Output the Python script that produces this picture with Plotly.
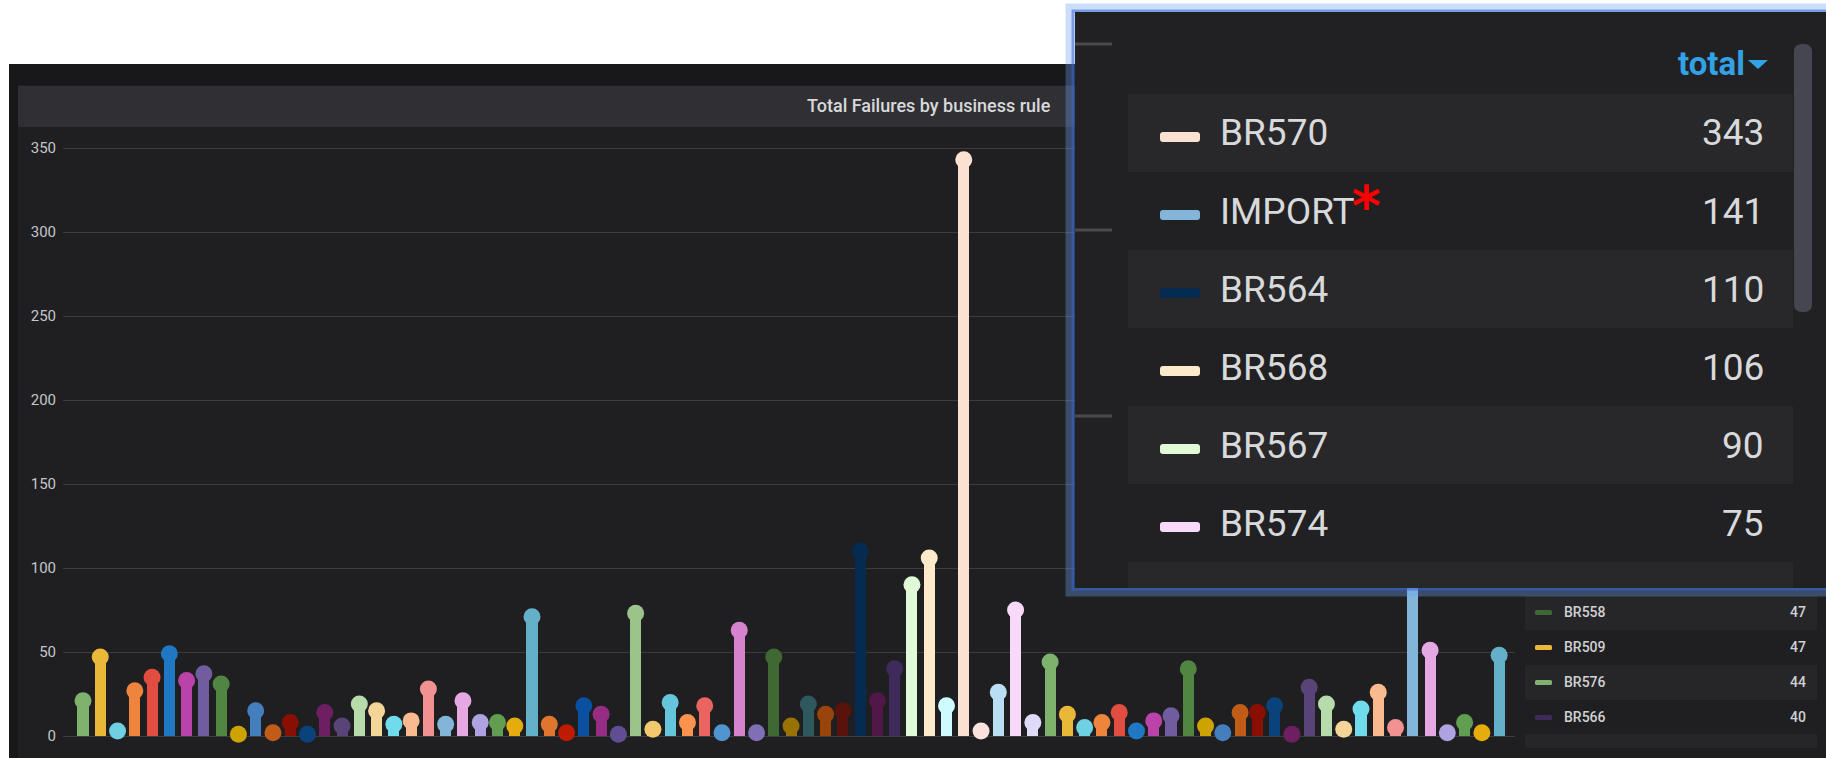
import plotly.graph_objects as go

# ---------------- data ----------------
# Grafana classic palette (series colours are assigned in order)
PALETTE = ["#7EB26D", "#EAB839", "#6ED0E0", "#EF843C", "#E24D42", "#1F78C1", "#BA43A9", "#705DA0",
           "#508642", "#CCA300", "#447EBC", "#C15C17", "#890F02", "#0A437C", "#6D1F62", "#584477",
           "#B7DBAB", "#F4D598", "#70DBED", "#F9BA8F", "#F29191", "#82B5D8", "#E5A8E2", "#AEA2E0",
           "#629E51", "#E5AC0E", "#64B0C8", "#E0752D", "#BF1B00", "#0A50A1", "#962D82", "#614D93",
           "#9AC48A", "#F2C96D", "#65C5DB", "#F9934E", "#EA6460", "#5195CE", "#D683CE", "#806EB7",
           "#3F6833", "#967302", "#2F575E", "#99440A", "#58140C", "#052B51", "#511749", "#3F2B5B",
           "#E0F9D7", "#FCEACA", "#CFFAFF", "#F9E2D2", "#FCE2DE", "#BADFF4", "#F9D9F9", "#DEDAF7"]

failures = [21, 47, 3, 27, 35, 49, 33, 37, 31, 1, 15, 2, 8, 1, 14, 6, 19, 15, 7, 9, 28, 7,
            21, 8, 8, 6, 71, 7, 2, 18, 13, 1, 73, 4, 20, 8, 18, 2, 63, 2, 47, 6, 19, 13, 15,
            110, 21, 40, 90, 106, 18, 343, 3, 26, 75, 8,
            44, 13, 5, 8, 14, 3, 9, 12, 40, 6, 2, 14, 14, 18, 1, 29, 19, 4, 16, 26, 5,
            141, 51, 2, 8, 2, 48]
series_idx = list(range(len(failures)))

y_ticks = [0, 50, 100, 150, 200, 250, 300, 350]
title_text = "Total Failures by business rule"

# zoomed legend (overlay)
top_names = ["BR570", "IMPORT", "BR564", "BR568", "BR567", "BR574"]
top_totals = [343, 141, 110, 106, 90, 75]
top_series = [51, 77, 45, 49, 48, 54]

# panel legend (bottom right)
low_names = ["BR558", "BR509", "BR576", "BR566"]
low_totals = [47, 47, 44, 40]
low_series = [40, 1, 56, 47]

colors = [PALETTE[i % len(PALETTE)] for i in series_idx]

# ---------------- geometry helpers ----------------
W, H = 1826, 758          # reference frame used for all positions below
FIG_H = 767               # rendered figure height (screenshot is squeezed vertically to 758)
def X(p): return p / W
def Y(p): return 1 - p / H

def rect(x0, y0, x1, y1, color, layer="below"):
    return dict(type="rect", xref="paper", yref="paper", x0=X(x0), x1=X(x1), y0=Y(y1), y1=Y(y0),
                fillcolor=color, line=dict(width=0), layer=layer)

def rrect(x0, y0, x1, y1, r, color, layer="above"):
    pts = lambda x, y: f"{X(x):.6f},{Y(y):.6f}"
    p = (f"M {pts(x0 + r, y0)} L {pts(x1 - r, y0)} Q {pts(x1, y0)} {pts(x1, y0 + r)} "
         f"L {pts(x1, y1 - r)} Q {pts(x1, y1)} {pts(x1 - r, y1)} L {pts(x0 + r, y1)} "
         f"Q {pts(x0, y1)} {pts(x0, y1 - r)} L {pts(x0, y0 + r)} Q {pts(x0, y0)} {pts(x0 + r, y0)} Z")
    return dict(type="path", xref="paper", yref="paper", path=p, fillcolor=color,
                line=dict(width=0), layer=layer)

def hline(x0, x1, y, color, w=1, layer="above"):
    return dict(type="line", xref="paper", yref="paper", x0=X(x0), x1=X(x1), y0=Y(y), y1=Y(y),
                line=dict(color=color, width=w), layer=layer)

def text(x, y, s, size, color, xanchor="left", weight=400, family="Roboto"):
    return dict(xref="paper", yref="paper", x=X(x), y=Y(y), text=s, showarrow=False,
                xanchor=xanchor, yanchor="middle",
                font=dict(family=family, size=size, color=color, weight=weight))

# ---------------- figure ----------------
fig = go.Figure()
fig.add_trace(go.Bar(x=series_idx, y=failures, width=0.64, marker=dict(color=colors, line=dict(width=0)),
                     hoverinfo="skip"))
fig.add_trace(go.Scatter(x=series_idx, y=failures, mode="markers", cliponaxis=False,
                         marker=dict(color=colors, size=17, line=dict(width=0)), hoverinfo="skip"))

PX_PER_UNIT = 84 / 50
plot_left, plot_right = 63, 1515
y_bottom, y_top = 736, 136
first_bar_px, bar_step = 83, 17.27

shapes = [
    rect(9, 64, W, H + 20, "#18181b"),
    rect(18, 85, W, H + 20, "#1f1f22"),
    rect(18, 86, W, 127, "#303034"),
]

# ----- panel legend (bottom right) -----
for k, (nm, tot, si) in enumerate(zip(low_names, low_totals, low_series)):
    cy = 612 + 35 * k
    if k % 2 == 0:
        shapes.append(rect(1525, cy - 17, 1817, cy + 18, "#262629", layer="above"))
    shapes.append(rrect(1535, cy - 2, 1552, cy + 3, 1.5, PALETTE[si % len(PALETTE)]))
shapes.append(rect(1525, 734, 1817, 748, "#262629", layer="above"))

# ----- overlay (zoomed legend) -----
shapes += [
    dict(type="rect", xref="paper", yref="paper", x0=X(1070), x1=X(1840), y0=Y(592), y1=Y(8),
         fillcolor="rgba(0,0,0,0)", line=dict(color="rgba(110,160,240,0.35)", width=9), layer="above"),
    dict(type="rect", xref="paper", yref="paper", x0=X(1073), x1=X(1840), y0=Y(589), y1=Y(11),
         fillcolor="rgba(0,0,0,0)", line=dict(color="rgba(50,100,210,0.55)", width=3), layer="above"),
    rect(1075, 12, W, 588, "#212124", layer="above"),
]
for gy in (44, 230, 416):
    shapes.append(hline(1075, 1112, gy, "#4a4a4e", 3))
for k in range(7):
    top = 94 + 78 * k
    if k % 2 == 0:
        shapes.append(rect(1128, top, 1793, min(top + 78, 588), "#28282b", layer="above"))
shapes.append(rrect(1794, 44, 1812, 312, 8, "#45464f"))
shapes.append(dict(type="path", xref="paper", yref="paper",
                   path=f"M {X(1748)},{Y(60)} L {X(1768)},{Y(60)} L {X(1758)},{Y(69)} Z",
                   fillcolor="#33a2e5", line=dict(width=0), layer="above"))

annotations = [text(929, 106, title_text, 18, "#d8d9da", xanchor="center", weight=500)]
annotations.append(text(1747, 64, "total", 33, "#33a2e5", xanchor="right", weight=700))
for k, (nm, tot, si) in enumerate(zip(top_names, top_totals, top_series)):
    cy = 133 + 78 * k
    shapes.append(rrect(1160, cy - 1, 1200, cy + 9, 3, PALETTE[si % len(PALETTE)]))
    annotations.append(text(1218, cy, nm, 37, "#d8d9da"))
    annotations.append(text(1766, cy, str(tot), 37, "#d8d9da", xanchor="right"))
annotations.append(text(1350, 205, "*", 56, "#ff0000", weight=700, family="DejaVu Sans"))

for k, (nm, tot) in enumerate(zip(low_names, low_totals)):
    cy = 612 + 35 * k
    annotations.append(text(1562, cy, nm, 14, "#d0d1d3", weight=500))
    annotations.append(text(1808, cy, str(tot), 14, "#d0d1d3", xanchor="right", weight=500))

fig.update_layout(
    width=W, height=FIG_H, margin=dict(l=0, r=0, t=0, b=0),
    paper_bgcolor="#ffffff", plot_bgcolor="rgba(0,0,0,0)",
    showlegend=False, bargap=0,
    xaxis=dict(domain=[X(plot_left), X(plot_right)],
               range=[(plot_left - first_bar_px) / bar_step, (plot_right - first_bar_px) / bar_step],
               showgrid=False, zeroline=False, showticklabels=False, showline=False, fixedrange=True),
    yaxis=dict(domain=[Y(y_bottom), Y(y_top)], range=[0, (y_bottom - y_top) / PX_PER_UNIT],
               tickvals=y_ticks, ticktext=[str(v) for v in y_ticks],
               showgrid=True, gridcolor="#3c3c40", gridwidth=1, zeroline=True, zerolinecolor="#3c3c40",
               zerolinewidth=1, showline=False, ticks="", ticklabelstandoff=6,
               tickfont=dict(family="Roboto", size=15, color="#c4c6ca"), fixedrange=True),
    shapes=shapes, annotations=annotations,
)

page_fix = (
    "for (const el of [document.documentElement, document.body]) {"
    "el.style.margin='0'; el.style.padding='0'; el.style.overflow='hidden';"
    "el.style.background='#1f1f22'; }"
)
fig.write_html("out.html", config={"displayModeBar": False}, post_script=page_fix)
